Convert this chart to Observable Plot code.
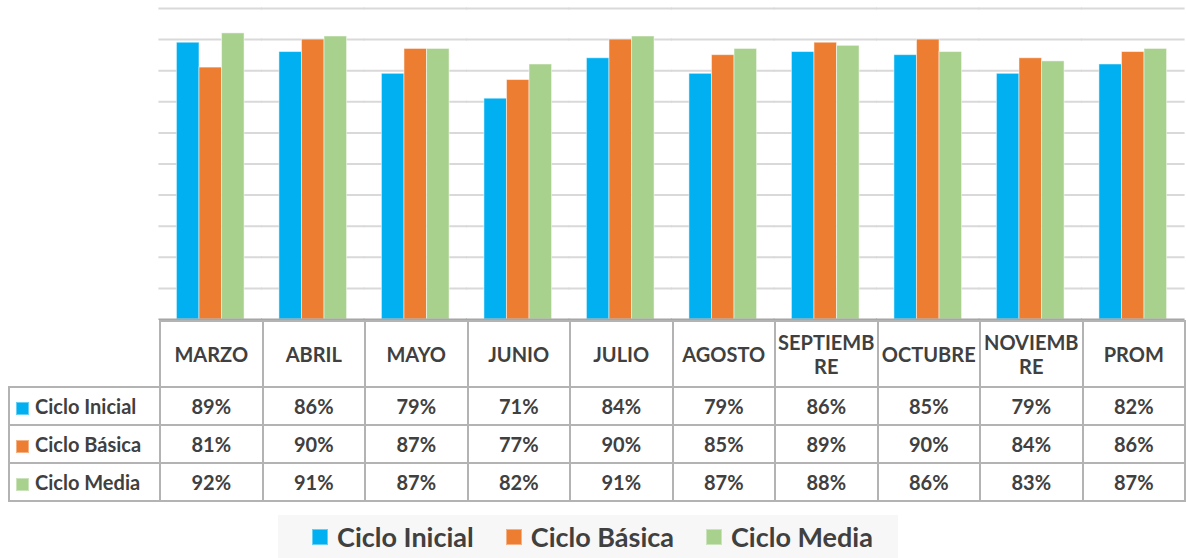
<!DOCTYPE html>
<html>
<head>
<meta charset="utf-8">
<script src="https://cdn.jsdelivr.net/npm/d3@7"></script>
<script src="https://cdn.jsdelivr.net/npm/@observablehq/plot@0.6"></script>
<style>
  html, body { margin: 0; padding: 0; background: #fff; }
  body { font-family: Lato, "Open Sans", sans-serif; color: #404040; }
  #wrap { position: relative; width: 1186px; height: 558px; overflow: hidden; }
  #chart { position: absolute; left: 0; top: 0; }
  #tbl { position: absolute; left: 8px; top: 320px; border-collapse: collapse; table-layout: fixed; }
  #tbl td { border: 2px solid #b3b3b3; text-align: center; vertical-align: middle; font-weight: 700; padding: 0; white-space: nowrap; }
  #tbl tr.head td { height: 64px; font-size: 20px; line-height: 24px; }
  #tbl tr.head td.blank { border: none; border-right: 2px solid #b3b3b3; }
  #tbl tr.row td { height: 36px; font-size: 20px; }
  #tbl td.lab { text-align: left; padding-left: 6px; font-size: 21.5px; }
  .sw { display: inline-block; width: 13px; height: 13px; margin-right: 6px; vertical-align: -1px; box-shadow: inset 0 0 0 1px rgba(255,255,255,0.4); }
  #legend { position: absolute; left: 278px; top: 515px; width: 620px; height: 43px; background: #f7f7f7; box-sizing: border-box; padding-left: 9px;
            display: flex; align-items: center; justify-content: center; gap: 32px; font-size: 27px; font-weight: 700; }
  #legend .sw2 { display: inline-block; width: 16px; height: 16px; margin-right: 9px; box-shadow: inset 0 0 0 1px rgba(255,255,255,0.4); }
  #legend span.it { display: flex; align-items: center; }
</style>
</head>
<body>
<div id="wrap">
  <div id="chart"></div>
  <table id="tbl"></table>
  <div id="legend"></div>
</div>
<script>
// ---- data ----
const months = ["MARZO", "ABRIL", "MAYO", "JUNIO", "JULIO", "AGOSTO", "SEPTIEMBRE", "OCTUBRE", "NOVIEMBRE", "PROM"];
const monthLabels = ["MARZO", "ABRIL", "MAYO", "JUNIO", "JULIO", "AGOSTO", "SEPTIEMB\nRE", "OCTUBRE", "NOVIEMB\nRE", "PROM"];
const series = ["Ciclo Inicial", "Ciclo Básica", "Ciclo Media"];
const cicloInicial = [89, 86, 79, 71, 84, 79, 86, 85, 79, 82];
const cicloBasica  = [81, 90, 87, 77, 90, 85, 89, 90, 84, 86];
const cicloMedia   = [92, 91, 87, 82, 91, 87, 88, 86, 83, 87];
const colors = ["#00b0f0", "#ed7d31", "#a9d18e"];
const gridTicks = [10, 20, 30, 40, 50, 60, 70, 80, 90, 100];

const valuesBySeries = [cicloInicial, cicloBasica, cicloMedia];
const data = [];
months.forEach((m, i) => series.forEach((s, j) => data.push({month: m, series: s, value: valuesBySeries[j][i]})));

// ---- chart ----
const chart = Plot.plot({
  width: 1186,
  height: 320,
  marginTop: 8,
  marginBottom: 1,
  marginLeft: 159,
  marginRight: 2,
  style: {background: "transparent"},
  fx: {domain: months, paddingInner: 0.34, paddingOuter: 0.17, round: false, axis: null, label: null},
  x: {domain: series, padding: 0, round: false, axis: null},
  y: {domain: [0, 100], axis: null},
  color: {domain: series, range: colors},
  marks: [
    Plot.ruleY(gridTicks, {stroke: "#d9d9d9", strokeWidth: 2, insetLeft: -18, insetRight: -18}),
    Plot.barY(data, {fx: "month", x: "series", y: "value", fill: "series", stroke: "white", strokeOpacity: 0.5, strokeWidth: 1}),
    Plot.ruleY([0], {stroke: "#a6a6a6", strokeWidth: 2, insetLeft: -18, insetRight: -18})
  ]
});
document.getElementById("chart").appendChild(chart);

// ---- data table ----
const tbl = d3.select("#tbl");
const cg = tbl.append("colgroup");
cg.append("col").style("width", "151px");
months.forEach(() => cg.append("col").style("width", "102.5px"));
const head = tbl.append("tr").attr("class", "head");
head.append("td").attr("class", "blank");
monthLabels.forEach(l => head.append("td").html(l.replace("\n", "<br>")));
series.forEach((s, j) => {
  const tr = tbl.append("tr").attr("class", "row");
  const lab = tr.append("td").attr("class", "lab");
  lab.append("span").attr("class", "sw").style("background", colors[j]);
  lab.append("span").text(s);
  valuesBySeries[j].forEach(v => tr.append("td").text(v + "%"));
});

// ---- legend ----
const lg = d3.select("#legend");
series.forEach((s, j) => {
  const it = lg.append("span").attr("class", "it");
  it.append("span").attr("class", "sw2").style("background", colors[j]);
  it.append("span").text(s);
});
</script>
</body>
</html>
